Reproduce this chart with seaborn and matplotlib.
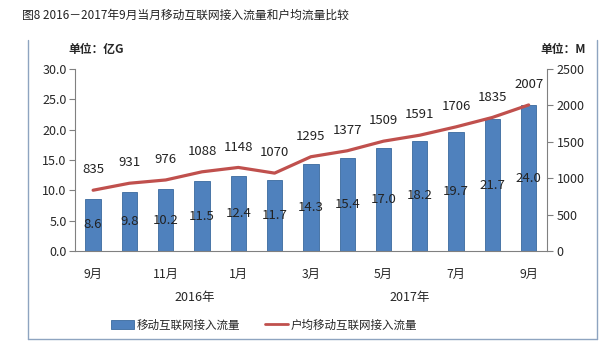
import matplotlib
matplotlib.use('Agg')
import matplotlib.pyplot as plt
import numpy as np
import pandas as pd
import seaborn as sns
from matplotlib.lines import Line2D
from matplotlib.patches import Patch

sns.set_style('white')
plt.rcParams['font.family'] = ['Noto Sans CJK SC', 'DejaVu Sans']

months = ['9月', '10月', '11月', '12月', '1月', '2月', '3月',
          '4月', '5月', '6月', '7月', '8月', '9月']
traffic = [8.6, 9.8, 10.2, 11.5, 12.4, 11.7, 14.3, 15.4, 17.0, 18.2, 19.7, 21.7, 24.0]
per_user = [835, 931, 976, 1088, 1148, 1070, 1295, 1377, 1509, 1591, 1706, 1835, 2007]
years = ['2016年', '2017年']

df = pd.DataFrame({'idx': np.arange(len(months)), 'traffic': traffic, 'per_user': per_user})

bar_color = '#4F81BD'
line_color = '#C0504D'

fig = plt.figure(figsize=(6.13, 3.56), dpi=100)
ax = fig.add_axes([0.1223, 0.295, 0.7697, 0.511])

sns.barplot(data=df, x='idx', y='traffic', color=bar_color, width=0.42,
            edgecolor='#3A6A9E', linewidth=0.6, saturation=1, ax=ax)
ax.set_ylim(0, 30)
ax.set_xlim(-0.5, len(months) - 0.5)
ax.set_yticks(np.arange(0, 31, 5))
ax.set_yticklabels([f'{v:.1f}' for v in np.arange(0, 31, 5)], fontsize=9)
ax.set_xlabel('')
ax.set_ylabel('')

# month labels every other category, ticks at category boundaries
ax.set_xticks(np.arange(0, len(months), 2))
ax.set_xticklabels([months[i] for i in range(0, len(months), 2)], fontsize=8.8)
ax.tick_params(axis='x', length=0, pad=12)
ax.set_xticks(np.arange(-0.5, len(months), 1), minor=True)
ax.tick_params(axis='x', which='minor', length=4, direction='out', color='#808080')
ax.tick_params(axis='y', length=4, direction='out', color='#808080', pad=2)

for i, v in enumerate(traffic):
    ax.text(i, v / 2, f'{v:.1f}', ha='center', va='center', fontsize=9.5, color='#222222')

for s in ['top', 'right']:
    ax.spines[s].set_visible(False)
ax.spines['left'].set_color('#808080')
ax.spines['bottom'].set_color('#808080')

ax2 = ax.twinx()
sns.lineplot(data=df, x='idx', y='per_user', color=line_color, linewidth=2.3, ax=ax2)
ax2.set_ylim(0, 2500)
ax2.set_yticks(np.arange(0, 2501, 500))
ax2.set_yticklabels([str(v) for v in range(0, 2501, 500)], fontsize=9)
ax2.set_ylabel('')
ax2.tick_params(axis='y', length=4, direction='out', color='#808080', pad=3)
for s in ['top', 'left', 'bottom']:
    ax2.spines[s].set_visible(False)
ax2.spines['right'].set_color('#808080')
ax2.set_xlim(-0.5, len(months) - 0.5)

for i, v in enumerate(per_user):
    ax2.annotate(str(v), (i, v), xytext=(0, 10), textcoords='offset points',
                 ha='center', va='bottom', fontsize=9.5, color='#222222')

# title and units
fig.text(22 / 613, 1 - 15 / 356, '图8 2016－2017年9月当月移动互联网接入流量和户均流量比较',
         fontsize=8.5, va='center', ha='left', color='#222222')
fig.text(96 / 613, 1 - 50 / 356, '单位：亿G', fontsize=8.5, fontweight='bold',
         ha='center', va='center')
fig.text(563 / 613, 1 - 50 / 356, '单位：M', fontsize=8.5, fontweight='bold',
         ha='center', va='center')

# year labels
fig.text(195 / 613, 1 - 298 / 356, years[0], fontsize=9, ha='center', va='center')
fig.text(410 / 613, 1 - 298 / 356, years[1], fontsize=9, ha='center', va='center')

# frame around chart
frame_color = '#8EA4C0'
fig.add_artist(Line2D([28 / 613, 28 / 613], [1 - 40 / 356, 1 - 339 / 356],
                      color=frame_color, lw=1, transform=fig.transFigure))
fig.add_artist(Line2D([28 / 613, 597 / 613], [1 - 339 / 356, 1 - 339 / 356],
                      color=frame_color, lw=1, transform=fig.transFigure))
fig.add_artist(Line2D([597 / 613, 597 / 613], [1 - 40 / 356, 1 - 339 / 356],
                      color=frame_color, lw=1, transform=fig.transFigure))

handles = [Patch(facecolor=bar_color, edgecolor='#3A6A9E', linewidth=0.6),
           Line2D([0], [0], color=line_color, lw=2)]
fig.legend(handles, ['移动互联网接入流量', '户均移动互联网接入流量'],
           loc='center', bbox_to_anchor=(264 / 613, 1 - 325 / 356), ncol=2,
           frameon=False, fontsize=8.3, handlelength=2.0, handleheight=0.8,
           columnspacing=2.2, handletextpad=0.2)

plt.savefig('out.png', dpi=100)
plt.close()
